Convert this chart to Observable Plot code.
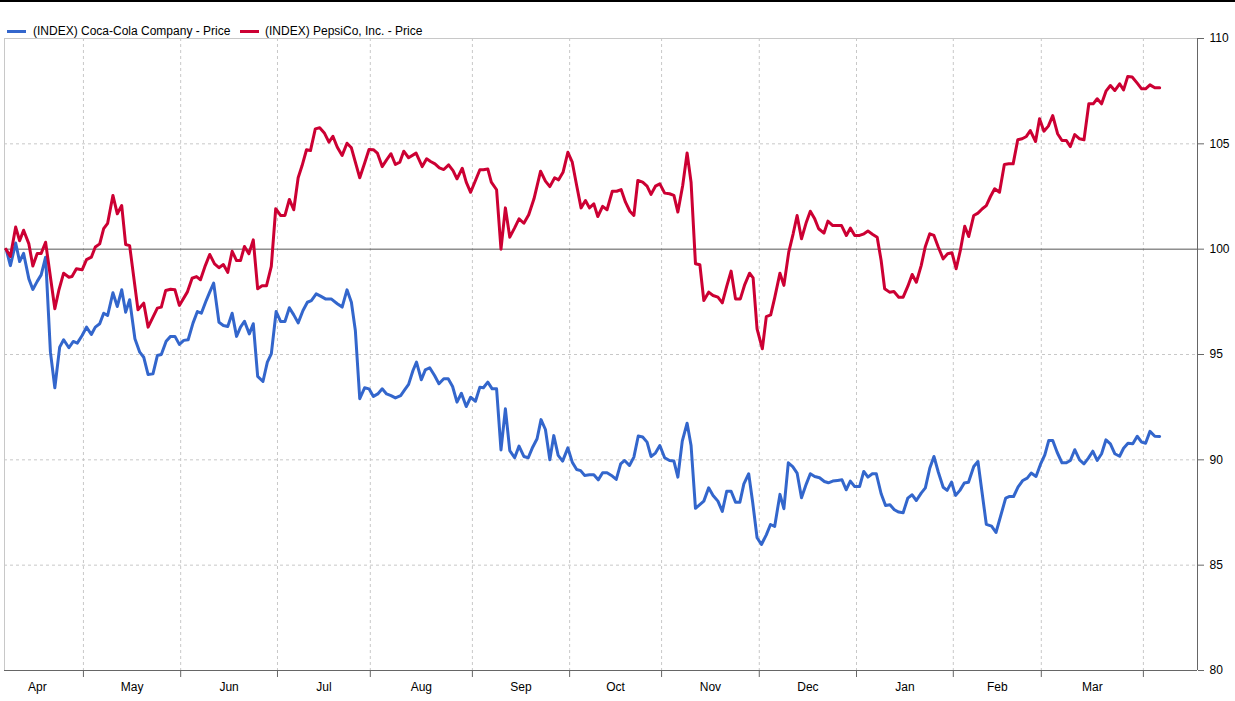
<!DOCTYPE html>
<html>
<head>
<meta charset="utf-8">
<script src="https://cdn.jsdelivr.net/npm/d3@7"></script>
<script src="https://cdn.jsdelivr.net/npm/@observablehq/plot@0.6"></script>
<style>
  html, body { margin: 0; padding: 0; background: #fff; }
  body { width: 1235px; height: 701px; overflow: hidden; font-family: "Liberation Sans", Arial, sans-serif; }
  #topbar { height: 2px; background: #000; }
  #legend { position: relative; height: 28px; font-size: 12px; color: #000; }
  #legend .sw { position: absolute; top: 28px; width: 19px; height: 3px; }
  #legend .lb { position: absolute; top: 22px; line-height: 14px; white-space: nowrap; }
  svg { display: block; }
</style>
</head>
<body>
<div id="topbar"></div>
<div id="legend"></div>
<div id="chart"></div>
<script>
// ---- series names / colours ----
const seriesNames = ["(INDEX) Coca-Cola Company - Price", "(INDEX) PepsiCo, Inc. - Price"];
const seriesColors = ["#3366cc", "#cc0033"];

// ---- x axis: trading-day index, month boundaries and label centres ----
const xDomain = [-0.34, 270.8];
const monthTickDays = [17.6, 39.7, 61.7, 82.8, 106.0, 128.1, 149.0, 171.2, 193.3, 215.3, 235.3, 258.5];
const monthLabels = ["Apr", "May", "Jun", "Jul", "Aug", "Sep", "Oct", "Nov", "Dec", "Jan", "Feb", "Mar"];
const monthLabelDays = [7.15, 28.65, 50.7, 72.25, 94.4, 117.05, 138.55, 160.1, 182.25, 204.3, 225.3, 246.9];

// ---- y axis ----
const yDomain = [80, 110];
const yTicks = [80, 85, 90, 95, 100, 105, 110];
const yGrid = [85, 90, 95, 105];
const baseLine = [100];

// ---- Coca-Cola (indexed) ----
const koDay = [0.1,1.0,2.2,3.1,4.0,5.2,6.1,7.1,8.0,9.0,10.1,11.1,12.2,13.1,14.3,15.3,16.2,17.3,18.3,19.4,20.3,21.3,22.2,23.1,24.3,25.3,26.3,27.2,28.1,29.3,30.4,31.3,32.3,33.4,34.4,35.3,36.4,37.4,38.4,39.4,40.4,41.4,42.5,43.5,44.4,45.5,46.3,47.2,48.4,49.4,50.4,51.4,52.4,53.3,54.2,55.3,56.2,57.2,58.4,59.4,60.3,61.4,62.4,63.4,64.4,65.4,66.4,67.5,68.5,69.4,70.5,71.5,72.6,73.9,75.3,76.4,77.5,78.5,79.4,80.4,81.5,82.5,83.5,84.5,85.5,86.5,87.5,88.5,89.7,90.6,91.5,92.5,93.3,94.4,95.3,96.3,97.4,98.4,99.5,100.5,101.5,102.5,103.5,104.6,105.6,106.7,107.7,108.5,109.5,110.5,111.5,112.5,113.5,114.5,115.6,116.6,117.7,118.7,119.7,120.7,121.6,122.6,123.6,124.5,125.5,126.5,127.7,128.7,129.7,130.6,131.5,132.6,133.6,134.6,135.6,136.6,137.6,138.7,139.7,140.6,141.7,142.7,143.7,144.7,145.7,146.6,147.6,148.6,149.7,150.8,151.8,152.7,153.7,154.8,155.7,156.7,158.6,159.7,160.7,161.8,162.8,163.8,164.8,165.8,166.8,167.7,168.8,169.7,170.7,171.7,172.8,173.75,174.7,175.9,176.8,177.8,178.8,179.8,180.8,181.9,182.8,183.8,184.9,186.0,186.9,187.9,189.0,190.0,190.95,191.9,192.9,194.0,194.95,195.9,196.9,197.8,198.9,199.9,200.9,201.9,202.9,203.9,204.95,205.95,206.9,208.0,208.95,209.95,210.9,211.9,213.0,213.9,214.9,215.8,216.8,217.8,218.75,219.95,220.9,222.8,224.0,225.0,227.2,228.1,229.0,230.0,231.1,232.1,233.0,234.1,235.1,236.1,237.0,237.9,238.9,240.0,241.0,241.9,242.9,244.0,245.0,246.0,247.0,248.0,249.0,250.0,251.0,252.0,253.1,254.0,255.0,256.1,257.1,258.1,259.0,260.0,261.1,262.2];
const koValue = [99.94,99.22,100.29,99.41,99.8,98.59,98.09,98.47,98.78,99.62,95.11,93.42,95.35,95.7,95.32,95.62,95.54,95.9,96.3,95.95,96.3,96.46,96.96,96.85,97.93,97.28,98.07,97.01,97.6,95.75,95.11,94.87,94.05,94.08,94.95,95.0,95.63,95.86,95.86,95.48,95.67,95.7,96.49,97.04,96.96,97.56,97.96,98.39,96.53,96.38,96.33,96.96,95.86,96.3,96.58,95.98,96.46,93.96,93.72,94.64,95.03,97.04,96.57,96.57,97.22,96.88,96.5,97.09,97.48,97.56,97.88,97.77,97.64,97.64,97.41,97.25,98.07,97.48,96.14,92.9,93.42,93.37,93.01,93.13,93.37,93.13,93.05,92.94,93.05,93.32,93.58,94.24,94.64,93.8,94.27,94.37,94.0,93.61,93.85,93.85,93.48,92.74,93.16,92.53,92.97,92.78,93.45,93.42,93.69,93.37,93.37,90.47,92.42,90.44,90.1,90.65,90.16,90.1,90.6,91.0,91.91,91.44,90.0,91.15,90.21,89.94,90.57,89.89,89.54,89.49,89.26,89.29,89.29,89.05,89.39,89.39,89.26,89.07,89.81,89.97,89.73,90.13,91.13,91.08,90.84,90.16,90.32,90.68,90.1,89.97,89.94,89.18,90.89,91.74,90.68,87.7,88.04,88.67,88.31,88.04,87.55,88.51,88.51,87.99,87.99,88.86,89.34,87.99,86.3,85.98,86.44,86.93,86.84,88.36,87.68,89.86,89.68,89.37,88.2,88.86,89.34,89.21,89.15,88.97,88.91,88.99,89.02,89.05,88.58,88.99,88.73,88.73,89.45,89.18,89.34,89.34,88.39,87.83,87.87,87.63,87.52,87.49,88.18,88.34,88.07,88.42,88.67,89.6,90.16,89.41,88.7,88.55,88.94,88.31,88.55,88.9,88.94,89.68,89.92,86.94,86.85,86.55,88.18,88.26,88.26,88.7,89.02,89.13,89.37,89.21,89.78,90.24,90.92,90.92,90.36,89.86,89.86,89.97,90.48,90.0,89.81,90.08,90.41,89.97,90.29,90.95,90.76,90.29,90.17,90.55,90.79,90.76,91.12,90.84,90.79,91.35,91.12,91.11];

// ---- PepsiCo (indexed) ----
const pepDay = [0,1.0,2.2,3.1,4.0,5.2,6.1,7.1,8.0,9.0,11.1,12.0,13.1,14.3,15.0,16.0,17.3,18.3,19.4,20.3,21.3,22.2,23.1,24.3,25.3,26.3,27.2,28.1,30.0,31.3,32.3,34.4,35.3,36.3,37.4,38.4,39.4,41.2,42.3,43.3,44.2,45.3,46.3,47.4,48.4,49.4,50.4,51.4,52.4,53.3,54.2,55.2,56.2,57.2,58.2,59.2,60.3,61.3,62.4,63.4,64.4,65.4,66.4,67.3,68.3,69.2,70.3,71.3,72.4,73.4,74.3,75.3,76.4,77.5,78.5,79.4,80.4,81.5,82.5,83.5,84.4,85.5,86.5,87.5,88.5,89.5,90.4,91.5,93.2,94.6,95.6,96.5,97.5,98.5,99.5,100.6,101.6,102.5,103.7,104.6,105.6,106.7,107.7,108.5,109.5,110.3,111.5,112.5,113.5,114.5,115.6,116.6,117.7,118.8,120.0,121.5,122.6,123.6,124.7,125.6,126.6,127.7,128.7,129.7,130.7,131.7,132.6,133.6,134.5,135.6,136.6,137.8,138.8,139.8,140.8,141.8,142.7,143.6,144.7,145.7,146.6,147.6,148.6,149.7,150.8,151.8,152.7,153.8,154.8,155.7,156.7,157.7,158.6,159.7,160.7,161.8,162.8,163.8,164.8,165.8,166.9,167.9,169.0,169.8,170.7,171.9,172.8,173.8,174.7,175.9,176.8,177.9,178.9,179.8,180.8,181.9,182.8,183.8,184.7,185.9,186.8,187.9,188.9,189.9,191.0,191.9,192.9,194.0,195.0,195.9,197.0,198.0,198.9,199.7,200.8,201.8,202.9,203.9,204.95,205.95,206.9,208.0,208.95,209.95,210.9,211.9,213.0,214.0,215.0,215.95,216.9,217.9,218.8,219.95,220.9,221.9,222.8,223.75,224.7,225.8,226.9,227.9,228.9,229.95,230.95,231.9,232.8,234.0,234.9,235.9,236.9,237.9,239.0,240.0,241.0,241.9,242.9,244.0,245.0,246.1,247.1,248.0,249.0,250.0,251.0,252.0,253.1,254.0,254.95,255.95,257.1,258.1,259.0,260.0,261.1,262.2];
const pepValue = [100.0,99.65,101.05,100.4,100.9,100.25,99.2,99.8,99.8,100.33,97.17,98.04,98.86,98.67,98.7,99.07,99.02,99.5,99.62,100.1,100.25,100.97,101.23,102.55,101.68,102.07,100.22,100.17,97.12,97.44,96.3,97.2,97.25,98.04,98.1,98.07,97.33,97.96,98.62,98.7,98.55,99.22,99.75,99.3,99.12,99.27,98.9,99.9,99.46,99.46,100.13,99.78,100.44,98.12,98.26,98.26,99.18,101.92,101.6,101.6,102.36,101.87,103.39,103.97,104.72,104.68,105.71,105.76,105.5,105.08,105.36,104.84,104.45,105.03,104.81,104.13,103.39,104.08,104.73,104.72,104.56,103.92,104.24,104.53,104.02,104.13,104.65,104.34,104.56,103.92,104.29,104.16,104.05,103.86,103.78,104.0,103.73,103.34,103.84,103.18,102.7,103.26,103.77,103.77,103.81,103.18,102.82,100.0,101.96,100.57,101.01,101.44,101.23,101.63,102.39,103.7,103.23,102.97,103.39,103.29,103.65,104.6,104.13,103.02,101.96,102.31,101.96,102.15,101.55,102.03,101.87,102.75,102.75,102.83,102.23,101.8,101.6,103.26,103.18,102.99,102.6,102.99,103.1,102.66,102.63,102.55,101.76,103.02,104.57,103.18,99.31,99.26,97.56,97.96,97.8,97.72,97.45,98.23,98.96,97.64,97.64,98.32,98.86,98.64,96.22,95.27,96.8,96.88,97.69,98.86,98.28,99.86,100.73,101.6,100.49,101.28,101.8,101.44,100.97,100.76,101.33,101.12,101.12,101.12,100.65,101.0,100.65,100.65,100.73,100.86,100.7,100.57,99.46,98.12,97.96,97.99,97.72,97.72,98.23,98.8,98.43,99.22,100.13,100.73,100.65,100.09,99.54,99.78,99.83,99.07,99.94,101.09,100.6,101.6,101.71,101.92,102.07,102.5,102.87,102.7,104.02,104.05,104.05,105.19,105.24,105.35,105.63,105.11,106.19,105.6,105.84,106.34,105.48,105.16,105.16,104.87,105.44,105.24,105.19,106.9,106.9,107.14,106.9,107.5,107.77,107.53,107.85,107.56,108.2,108.17,107.88,107.61,107.61,107.8,107.66,107.66];

// ---- build tables ----
const ko = koDay.map((d, i) => ({day: d, value: koValue[i]}));
const pep = pepDay.map((d, i) => ({day: d, value: pepValue[i]}));
const monthText = monthLabels.map((m, i) => ({day: monthLabelDays[i], label: m}));

// ---- legend (HTML, above the SVG) ----
const legend = document.getElementById("legend");
const legendLayout = [{sw: 7, lb: 33}, {sw: 240, lb: 265}];
seriesNames.forEach((name, i) => {
  const sw = document.createElement("div");
  sw.className = "sw";
  sw.style.left = legendLayout[i].sw + "px";
  sw.style.background = seriesColors[i];
  legend.appendChild(sw);
  const lb = document.createElement("div");
  lb.className = "lb";
  lb.style.left = legendLayout[i].lb + "px";
  lb.textContent = name;
  legend.appendChild(lb);
});

const chart = Plot.plot({
  width: 1235,
  height: 671,
  marginLeft: 4,
  marginRight: 38,
  marginTop: 8,
  marginBottom: 31,
  x: {domain: xDomain, label: null},
  y: {domain: yDomain, label: null},
  style: {fontFamily: "'Liberation Sans', Arial, sans-serif", fontSize: "12px", color: "#000", background: "#fff", overflow: "visible"},
  marks: [
    Plot.ruleY(yGrid, {stroke: "#c8c8c8", strokeDasharray: "3,3"}),
    Plot.ruleX(monthTickDays, {stroke: "#c8c8c8", strokeDasharray: "3,3"}),
    Plot.ruleX([xDomain[0]], {stroke: "#c8c8c8"}),
    Plot.ruleY([yDomain[1]], {stroke: "#c8c8c8"}),
    Plot.ruleY(baseLine, {stroke: "#555"}),
    Plot.line(ko, {x: "day", y: "value", stroke: seriesColors[0], strokeWidth: 3, strokeLinejoin: "round"}),
    Plot.line(pep, {x: "day", y: "value", stroke: seriesColors[1], strokeWidth: 3, strokeLinejoin: "round"}),
    Plot.ruleX([xDomain[1]], {stroke: "#666"}),
    Plot.ruleY([yDomain[0]], {stroke: "#666"}),
    Plot.axisX(monthTickDays, {anchor: "bottom", label: null, tickSize: 7, tickFormat: () => "", stroke: "#666"}),
    Plot.text(monthText, {x: "day", text: "label", frameAnchor: "bottom", dy: 17, lineAnchor: "middle", textAnchor: "middle", fill: "#000", fontSize: 12}),
    Plot.axisY(yTicks, {anchor: "right", label: null, tickSize: 6, tickPadding: 6, tickFormat: d => String(d), stroke: "#666", fill: "#000", fontSize: 12})
  ]
});
document.getElementById("chart").appendChild(chart);
</script>
</body>
</html>
